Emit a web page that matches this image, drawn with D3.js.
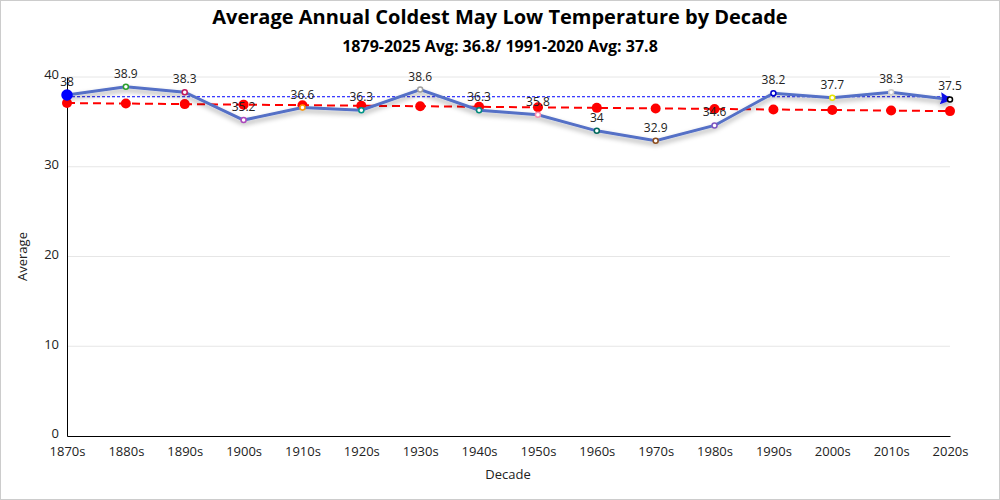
<!DOCTYPE html>
<html>
<head>
<meta charset="utf-8">
<script src="https://cdn.jsdelivr.net/npm/d3@7"></script>
<style>
  body { margin: 0; background: #fff; }
  #chart { width: 998px; height: 498px; border: 1px solid #ccc; }
  text { font-family: "Open Sans", "Noto Sans", sans-serif; }
</style>
</head>
<body>
<div id="chart"></div>
<script>
var decades = ["1870s","1880s","1890s","1900s","1910s","1920s","1930s","1940s","1950s","1960s","1970s","1980s","1990s","2000s","2010s","2020s"];
var averages = [38, 38.9, 38.3, 35.2, 36.6, 36.3, 38.6, 36.3, 35.8, 34, 32.9, 34.6, 38.2, 37.7, 38.3, 37.5];
var trend = [37.1, 37.04, 36.98, 36.92, 36.86, 36.8, 36.74, 36.68, 36.62, 36.56, 36.5, 36.44, 36.38, 36.32, 36.26, 36.2];
var markerColors = ["#0000ff","#2ca02c","#c2185b","#ab47bc","#ff9800","#009688","#9e9e9e","#00897b","#f48fb1","#00695c","#8d4e1f","#7e57c2","#0000cc","#e6e600","#cccccc","#000000"];
var normal = 37.8;
var yTicks = [0, 10, 20, 30, 40];

var width = 998, height = 498;
var margin = { left: 66, right: 49, top: 76, bottom: 63 };

var svg = d3.select("#chart").append("svg").attr("width", width).attr("height", height);

var defs = svg.append("defs");
var shadow = defs.append("filter").attr("id", "shadow").attr("x", "-10%").attr("y", "-50%").attr("width", "120%").attr("height", "200%");
shadow.append("feDropShadow").attr("dx", 0).attr("dy", 3).attr("stdDeviation", 2.5).attr("flood-color", "#000").attr("flood-opacity", 0.35);
defs.append("marker").attr("id", "arrow")
  .attr("viewBox", "0 0 10 10").attr("refX", 8).attr("refY", 5)
  .attr("markerWidth", 17).attr("markerHeight", 12).attr("markerUnits", "userSpaceOnUse")
  .attr("orient", "auto")
  .append("path").attr("d", "M0,0 L10,5 L0,10 L1.5,5 z").attr("fill", "#1010e6");

var x = d3.scalePoint().domain(decades).range([margin.left, width - margin.right]);
var y = d3.scaleLinear().domain([0, 40]).range([height - margin.bottom, margin.top]);

// gridlines
svg.append("g").selectAll("line").data(yTicks.slice(1)).enter().append("line")
  .attr("x1", margin.left).attr("x2", width - margin.right)
  .attr("y1", function (d) { return y(d); }).attr("y2", function (d) { return y(d); })
  .attr("stroke", "#e6e6e6");

// axes
var xAxis = svg.append("g").attr("transform", "translate(0," + y(0) + ")")
  .call(d3.axisBottom(x).tickSize(0).tickPadding(11));
var yAxis = svg.append("g").attr("transform", "translate(" + margin.left + ",0)")
  .call(d3.axisLeft(y).tickValues(yTicks).tickSize(0).tickPadding(8));
[xAxis, yAxis].forEach(function (a) {
  a.select(".domain").attr("stroke", "#000");
  a.selectAll("text").attr("font-size", 13).attr("fill", "#222").style("font-family", "'Open Sans', sans-serif");
});
yAxis.selectAll(".tick text").attr("dy", "0.15em");

// normal line
svg.append("line")
  .attr("x1", x(decades[0])).attr("x2", x(decades[decades.length - 1]))
  .attr("y1", y(normal)).attr("y2", y(normal))
  .attr("stroke", "#0000ff").attr("stroke-width", 1).attr("stroke-dasharray", "3,2");

// trend line
svg.append("path").datum(trend)
  .attr("fill", "none").attr("stroke", "#ff0000").attr("stroke-width", 2).attr("stroke-dasharray", "8,5")
  .attr("d", d3.line().x(function (d, i) { return x(decades[i]); }).y(function (d) { return y(d); }));

svg.append("g").selectAll("circle").data(trend).enter().append("circle")
  .attr("cx", function (d, i) { return x(decades[i]); })
  .attr("cy", function (d) { return y(d); })
  .attr("r", 5).attr("fill", "#ff0000");

// main line
svg.append("path").datum(averages)
  .attr("fill", "none").attr("stroke", "#5470c6").attr("stroke-width", 3)
  .attr("filter", "url(#shadow)")
  .attr("marker-end", "url(#arrow)")
  .attr("d", d3.line().x(function (d, i) { return x(decades[i]); }).y(function (d) { return y(d); }));

svg.append("g").selectAll("circle").data(averages).enter().append("circle")
  .attr("cx", function (d, i) { return x(decades[i]); })
  .attr("cy", function (d) { return y(d); })
  .attr("r", function (d, i) { return i === 0 ? 5 : 2.5; })
  .attr("fill", function (d, i) { return i === 0 ? markerColors[0] : "#fff"; })
  .attr("stroke", function (d, i) { return markerColors[i]; })
  .attr("stroke-width", 1.5);

svg.append("g").selectAll("text").data(averages).enter().append("text")
  .attr("x", function (d, i) { return x(decades[i]); })
  .attr("y", function (d) { return y(d) - 9; })
  .attr("text-anchor", "middle").attr("font-size", 12).attr("fill", "#222")
  .text(function (d) { return d; });

// titles
svg.append("text").attr("x", width / 2).attr("y", 23).attr("text-anchor", "middle")
  .attr("font-size", 20).attr("font-weight", "bold").attr("fill", "#000")
  .text("Average Annual Coldest May Low Temperature by Decade");
svg.append("text").attr("x", width / 2).attr("y", 51).attr("text-anchor", "middle")
  .attr("font-size", 16).attr("font-weight", "bold").attr("fill", "#000")
  .text("1879-2025 Avg: 36.8/ 1991-2020 Avg: 37.8");

svg.append("text").attr("x", width / 2 + 8).attr("y", 478).attr("text-anchor", "middle")
  .attr("font-size", 13).attr("fill", "#222").text("Decade");
svg.append("text").attr("transform", "translate(26," + (y(20)) + ") rotate(-90)")
  .attr("text-anchor", "middle").attr("font-size", 13).attr("fill", "#222").text("Average");
</script>
</body>
</html>
